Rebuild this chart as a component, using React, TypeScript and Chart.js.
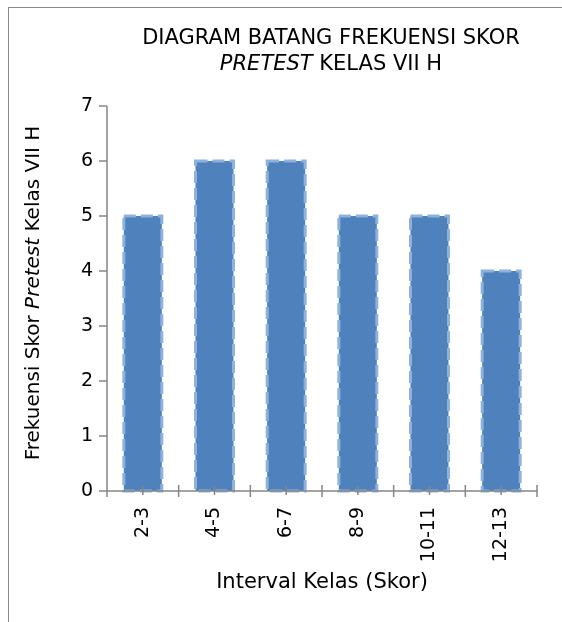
import React, { useEffect, useRef } from "react";
import { Chart, registerables } from "chart.js";

Chart.register(...registerables);

const categories = ["2-3", "4-5", "6-7", "8-9", "10-11", "12-13"];
const frequencies = [5, 6, 6, 5, 5, 4];
const yMin = 0;
const yMax = 7;
const yStep = 1;

type Seg = { text: string; italic: boolean };
const titleLine1: Seg[] = [{ text: "DIAGRAM BATANG FREKUENSI SKOR", italic: false }];
const titleLine2: Seg[] = [
  { text: "PRETEST", italic: true },
  { text: " KELAS VII H", italic: false },
];
const yTitle: Seg[] = [
  { text: "Frekuensi Skor ", italic: false },
  { text: "Pretest", italic: true },
  { text: " Kelas VII H", italic: false },
];
const xTitle: Seg[] = [{ text: "Interval Kelas (Skor)", italic: false }];

const FONT = "'DejaVu Sans', Verdana, sans-serif";
const AXIS_COLOR = "#868686";
const TEXT_COLOR = "#000000";

function drawRich(ctx: CanvasRenderingContext2D, segs: Seg[], cx: number, cy: number, size: number) {
  const fontOf = (s: Seg) => `${s.italic ? "italic " : ""}${size}px ${FONT}`;
  let total = 0;
  const widths = segs.map((s) => {
    ctx.font = fontOf(s);
    const w = ctx.measureText(s.text).width;
    total += w;
    return w;
  });
  let x = cx - total / 2;
  ctx.textAlign = "left";
  ctx.textBaseline = "middle";
  ctx.fillStyle = TEXT_COLOR;
  segs.forEach((s, i) => {
    ctx.font = fontOf(s);
    ctx.fillText(s.text, x, cy);
    x += widths[i];
  });
}

const customPlugin = {
  id: "custom",
  afterDatasetsDraw(chart: any) {
    const ctx: CanvasRenderingContext2D = chart.ctx;
    const meta = chart.getDatasetMeta(0);
    ctx.save();
    ctx.strokeStyle = "#8eb2de";
    ctx.lineWidth = 3;
    ctx.setLineDash([12, 5]);
    meta.data.forEach((bar: any) => {
      const { x, y, base, width } = bar.getProps(["x", "y", "base", "width"], true);
      ctx.strokeRect(x - width / 2, y, width, base - y);
    });
    ctx.restore();
  },
  afterDraw(chart: any) {
    const ctx: CanvasRenderingContext2D = chart.ctx;
    const xs = chart.scales.x;
    const ys = chart.scales.y;
    const area = chart.chartArea;
    ctx.save();
    ctx.strokeStyle = AXIS_COLOR;
    ctx.lineWidth = 1.5;
    const y0 = ys.getPixelForValue(yMin);
    const yTop = ys.getPixelForValue(yMax);
    ctx.beginPath();
    ctx.moveTo(area.left, yTop);
    ctx.lineTo(area.left, y0);
    for (let v = yMin; v <= yMax; v += yStep) {
      const py = ys.getPixelForValue(v);
      ctx.moveTo(area.left - 8, py);
      ctx.lineTo(area.left, py);
    }
    ctx.moveTo(area.left, y0);
    ctx.lineTo(area.right, y0);
    const n = categories.length;
    const cw = (area.right - area.left) / n;
    for (let i = 0; i <= n; i++) {
      const px = area.left + i * cw;
      ctx.moveTo(px, y0 - 6);
      ctx.lineTo(px, y0 + 6);
    }
    for (let i = 0; i < n; i++) {
      const px = xs.getPixelForValue(i);
      ctx.moveTo(px, y0 - 5);
      ctx.lineTo(px, y0 + 4);
    }
    ctx.stroke();
    ctx.restore();

    ctx.save();
    drawRich(ctx, titleLine1, 331, 39, 21);
    drawRich(ctx, titleLine2, 331, 65, 21);
    drawRich(ctx, xTitle, (area.left + area.right) / 2, 583, 21);
    ctx.translate(34, 293);
    ctx.rotate(-Math.PI / 2);
    drawRich(ctx, yTitle, 0, 0, 20);
    ctx.restore();
  },
};

export default function App() {
  const ref = useRef<HTMLCanvasElement | null>(null);
  useEffect(() => {
    if (!ref.current) return;
    const chart = new Chart(ref.current, {
      type: "bar",
      data: {
        labels: categories,
        datasets: [
          {
            data: frequencies,
            backgroundColor: "#4f81bd",
            borderWidth: 0,
            barPercentage: 0.53,
            categoryPercentage: 1,
          },
        ],
      },
      options: {
        animation: false,
        responsive: false,
        layout: { padding: { left: 0, right: 25, top: 106, bottom: 0 } },
        plugins: { legend: { display: false }, title: { display: false }, tooltip: { enabled: false } },
        scales: {
          x: {
            grid: { display: false, drawTicks: false },
            border: { display: false },
            ticks: {
              minRotation: 90,
              maxRotation: 90,
              padding: 16,
              color: TEXT_COLOR,
              font: { family: FONT, size: 19 },
            },
            afterFit(scale: any) {
              scale.height = 131;
            },
          },
          y: {
            min: yMin,
            max: yMax,
            grid: { display: false, drawTicks: false },
            border: { display: false },
            ticks: {
              stepSize: yStep,
              padding: 14,
              color: TEXT_COLOR,
              font: { family: FONT, size: 19 },
            },
            afterFit(scale: any) {
              scale.width = 107;
            },
          },
        },
      },
      plugins: [customPlugin],
    });
    return () => chart.destroy();
  }, []);
  return (
    <>
      <div
        style={{
          position: "fixed",
          left: 8,
          top: 7,
          right: 0,
          bottom: 0,
          borderLeft: "1px solid #8a8a8a",
          borderTop: "1px solid #8a8a8a",
        }}
      />
      <canvas
        ref={ref}
        width={562}
        height={622}
        style={{ position: "fixed", left: 0, top: 0, width: 562, height: 622 }}
      />
    </>
  );
}
